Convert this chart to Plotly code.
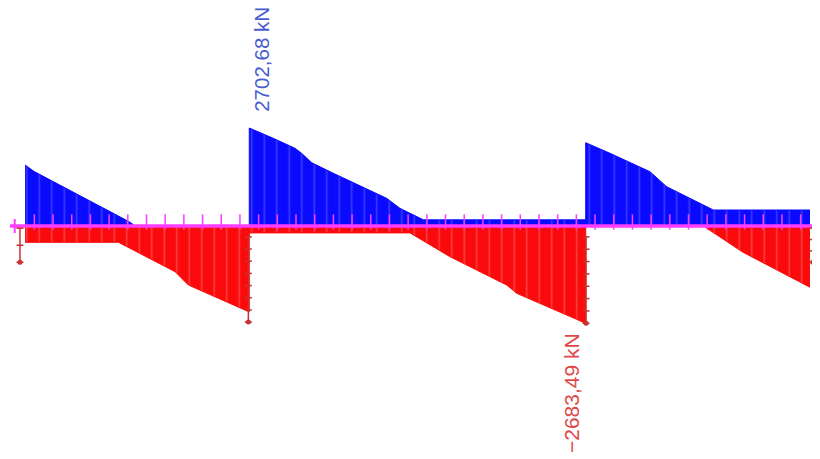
import numpy as np
import plotly.graph_objects as go

# Span layout (m)
supports = [0, 12, 30, 42]

# Max shear envelope (kN) - blue
max_x = [0, 0.5, 5.6, 5.9, 12,
         12, 13.28, 14.45, 14.8, 15.34, 16.5, 19.35, 20.06, 21.31, 30,
         30, 31.3, 33.44, 34.33, 36.83, 42]
max_v = [1683, 1500, 110, 0, 0,
         2702.68, 2419, 2143, 2005, 1746, 1453, 764, 488, 170, 170,
         2297, 2005, 1498, 1084, 441, 441]

# Min shear envelope (kN) - red
min_x = [0, 5.0, 5.62, 7.22, 8.03, 8.74, 12,
         12, 20.6, 22.74, 25.77, 26.31, 30,
         30, 36.3, 38.4, 42]
min_v = [-450, -450, -615, -1030, -1260, -1627, -2370,
         -190, -190, -847, -1627, -1857, -2683.49,
         0, 0, -720, -1690]

label_max = "2702,68 kN"
label_min = "\u22122683,49 kN"

# page body has an 8px margin; figure drawn at (8, 8)
OFF = 8
PX_PER_M = 18.69
KN_PER_PX = 27.58
X0_PX = 25 - OFF
AXIS_PX = 226 - OFF
W, H = 820 - OFF, 459 - OFF

xr = [(0 - X0_PX) / PX_PER_M, (W - X0_PX) / PX_PER_M]
yr = [-(H - AXIS_PX) * KN_PER_PX, AXIS_PX * KN_PER_PX]

fig = go.Figure()

fig.add_trace(go.Scatter(
    x=max_x, y=max_v, mode="lines", fill="tozeroy",
    line=dict(color="#0a0aff", width=1),
    fillcolor="#0a0aff",
    fillpattern=dict(shape="|", size=12.5, solidity=0.12,
                     fgcolor="#6f6fff", bgcolor="#0a0aff"),
    hoverinfo="skip", showlegend=False))

fig.add_trace(go.Scatter(
    x=min_x, y=min_v, mode="lines", fill="tozeroy",
    line=dict(color="#fa0a0a", width=1),
    fillcolor="#fa0a0a",
    fillpattern=dict(shape="|", size=12.5, solidity=0.12,
                     fgcolor="#ff7a7a", bgcolor="#fa0a0a"),
    hoverinfo="skip", showlegend=False))

# magenta member axis with division ticks
axis_ext = 0.8
fig.add_trace(go.Scatter(
    x=[supports[0] - axis_ext, supports[-1] + 0.35], y=[0, 0], mode="lines",
    line=dict(color="#ff3cff", width=3.5), hoverinfo="skip", showlegend=False))
tick_x = np.arange(supports[0] + 0.5, supports[-1], 1.0)
fig.add_trace(go.Scatter(
    x=tick_x, y=np.zeros_like(tick_x) + 110, mode="markers",
    marker=dict(symbol="line-ns", size=11, line=dict(color="#ff3cff", width=1.5)),
    hoverinfo="skip", showlegend=False))
fig.add_trace(go.Scatter(
    x=[supports[0] - 0.55, supports[-1] + 0.2], y=[0, 0], mode="markers",
    marker=dict(symbol="line-ns", size=10, line=dict(color="#ff3cff", width=2)),
    hoverinfo="skip", showlegend=False))

# dark red support markers
sup_lines = [
    (supports[0] - 0.27, -60, -1000, 3),
    (supports[1] - 0.05, -300, -2650, 8),
    (supports[2] + 0.02, -300, -2683.49, 8),
    (supports[3] + 0.15, -60, -1000, 4),
]
for sx, ytop, ybot, n in sup_lines:
    ys = np.linspace(ytop, ybot, n)
    fig.add_trace(go.Scatter(
        x=[sx] * n, y=ys, mode="lines+markers",
        line=dict(color="#c83232", width=1.5),
        marker=dict(symbol="line-ew", size=5, line=dict(color="#c83232", width=1.5)),
        hoverinfo="skip", showlegend=False))
    fig.add_trace(go.Scatter(
        x=[sx], y=[ybot], mode="markers",
        marker=dict(symbol="circle", size=5, color="#c83232"),
        hoverinfo="skip", showlegend=False))

fig.add_annotation(
    x=supports[1], y=max(max_v), text=label_max, showarrow=False,
    textangle=-90, xanchor="center", yanchor="bottom", xshift=12, yshift=14,
    font=dict(family="Liberation Sans, Arial, sans-serif", size=20.5, color="#4a5cd0"))
fig.add_annotation(
    x=supports[2], y=min(min_v), text=label_min, showarrow=False,
    textangle=-90, xanchor="center", yanchor="top", xshift=-14, yshift=-8,
    font=dict(family="Liberation Sans, Arial, sans-serif", size=21, color="#e04848"))

fig.update_layout(
    width=W, height=H, margin=dict(l=0, r=0, t=0, b=0),
    paper_bgcolor="white", plot_bgcolor="white",
    xaxis=dict(range=xr, visible=False, fixedrange=True),
    yaxis=dict(range=yr, visible=False, fixedrange=True),
)

fig.write_html("out.html")
